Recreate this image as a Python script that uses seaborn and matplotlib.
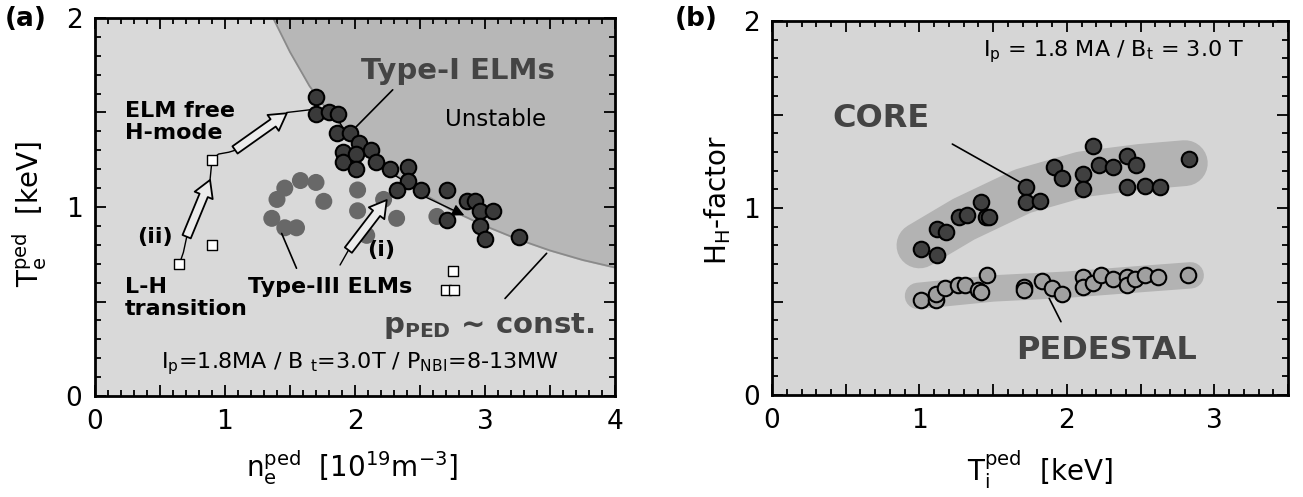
import numpy as np
import pandas as pd
import seaborn as sns
import matplotlib.pyplot as plt
from matplotlib.ticker import MultipleLocator, FuncFormatter

# ---- panel (a) data : n_e^ped [1e19 m-3], T_e^ped [keV]
type1_n = [1.70, 1.70, 1.80, 1.87, 1.86, 1.96, 2.03, 1.91, 1.91, 2.01, 2.12, 2.16, 2.01,
           2.27, 2.41, 2.41, 2.32, 2.51, 2.71, 2.86, 2.92, 2.96, 3.06, 2.71, 2.96, 3.00, 3.26]
type1_T = [1.58, 1.49, 1.50, 1.49, 1.39, 1.39, 1.34, 1.29, 1.24, 1.28, 1.30, 1.24, 1.20,
           1.20, 1.21, 1.14, 1.09, 1.09, 1.09, 1.03, 1.03, 0.98, 0.98, 0.93, 0.90, 0.83, 0.84]
type3_n = [1.46, 1.58, 1.70, 1.40, 1.76, 1.36, 1.46, 1.55, 2.02, 2.02, 2.22, 2.32, 2.09, 2.63]
type3_T = [1.10, 1.14, 1.13, 1.04, 1.03, 0.94, 0.89, 0.89, 1.09, 0.98, 1.04, 0.94, 0.85, 0.95]
lh_n = [0.65, 0.90, 0.90, 2.75, 2.70, 2.76]
lh_T = [0.70, 1.25, 0.80, 0.66, 0.56, 0.56]
bound_n = [1.37, 1.50, 1.65, 1.80, 2.00, 2.25, 2.50, 2.75, 3.00, 3.25, 3.50, 3.75, 4.00]
bound_T = [2.00, 1.82, 1.64, 1.50, 1.35, 1.20, 1.08, 0.98, 0.90, 0.83, 0.77, 0.72, 0.68]
# trajectories (ii) and (i)
path2_n = [0.65, 0.68, 0.705]
path2_T = [0.70, 0.76, 0.84]
path3_n = [0.885, 0.90, 0.95, 1.03, 1.077]
path3_T = [1.143, 1.25, 1.28, 1.29, 1.30]
path4_n = [1.475, 1.60, 1.72, 1.80, 1.88, 1.95, 2.05, 2.15, 2.30, 2.42, 2.52]
path4_T = [1.50, 1.51, 1.52, 1.50, 1.45, 1.37, 1.30, 1.24, 1.17, 1.12, 1.06]
path5_n = [1.885, 1.95]
path5_T = [0.693, 0.772]

# ---- panel (b) data : T_i^ped [keV], H_H factor
core_T = [1.01, 1.12, 1.12, 1.18, 1.27, 1.32, 1.42, 1.45, 1.47, 1.72, 1.72, 1.82, 1.91, 1.97,
          2.11, 2.11, 2.18, 2.22, 2.31, 2.41, 2.47, 2.41, 2.53, 2.63, 2.83]
core_H = [0.78, 0.75, 0.89, 0.87, 0.95, 0.96, 1.03, 0.95, 0.95, 1.11, 1.03, 1.04, 1.22, 1.16,
          1.18, 1.10, 1.33, 1.23, 1.22, 1.28, 1.23, 1.11, 1.12, 1.11, 1.26]
ped_T = [1.01, 1.11, 1.11, 1.17, 1.26, 1.31, 1.40, 1.46, 1.42, 1.71, 1.71, 1.83, 1.90, 1.97,
         2.11, 2.11, 2.18, 2.23, 2.31, 2.41, 2.41, 2.46, 2.53, 2.62, 2.82]
ped_H = [0.51, 0.51, 0.54, 0.57, 0.59, 0.59, 0.56, 0.64, 0.55, 0.58, 0.56, 0.61, 0.57, 0.54,
         0.63, 0.58, 0.60, 0.64, 0.62, 0.63, 0.59, 0.62, 0.64, 0.63, 0.64]
core_band_T = [1.00, 1.30, 1.70, 2.10, 2.50, 2.80]
core_band_H = [0.80, 0.94, 1.09, 1.18, 1.22, 1.24]
ped_band_T = [0.99, 1.50, 2.00, 2.50, 2.84]
ped_band_H = [0.53, 0.57, 0.59, 0.62, 0.64]

sns.set_theme(style='ticks')
plt.rcParams['font.family'] = ['DejaVu Sans']
plt.rcParams['mathtext.default'] = 'regular'
plt.rcParams['text.color'] = 'black'

fig = plt.figure(figsize=(13.03, 4.97), dpi=100)
ax1 = fig.add_axes([0.0729, 0.2032, 0.3991, 0.7606])
ax2 = fig.add_axes([0.5925, 0.2052, 0.3960, 0.7525])

def int_only(v, p):
    return f'{v:.0f}' if abs(v - round(v)) < 1e-6 else ''

for ax in (ax1, ax2):
    ax.xaxis.set_major_locator(MultipleLocator(0.5))
    ax.yaxis.set_major_locator(MultipleLocator(0.5))
    ax.xaxis.set_minor_locator(MultipleLocator(0.1))
    ax.yaxis.set_minor_locator(MultipleLocator(0.1))
    ax.xaxis.set_major_formatter(FuncFormatter(int_only))
    ax.yaxis.set_major_formatter(FuncFormatter(int_only))
    ax.tick_params(which='both', direction='in', top=True, right=True, width=1.3,
                   labelsize=19, colors='black')
    ax.tick_params(which='major', length=8, pad=9)
    ax.tick_params(which='minor', length=4)
    for s in ax.spines.values():
        s.set_linewidth(2)
        s.set_color('black')

# ---------------- panel (a)
ax1.set_facecolor('#d9d9d9')
ax1.fill_between(bound_n, bound_T, 2.0, color='#b7b7b7', zorder=0)
ax1.plot(bound_n, bound_T, color='#8a8a8a', lw=1.3, zorder=1)

line_kw = dict(color='black', lw=1.0, zorder=2)
ax1.plot(path2_n, path2_T, **line_kw)
ax1.plot(path3_n, path3_T, **line_kw)
ax1.plot(path4_n, path4_T, **line_kw)
ax1.plot(path5_n, path5_T, **line_kw)
ax1.annotate('', xy=(2.86, 0.95), xytext=(2.52, 1.06),
             arrowprops=dict(arrowstyle='-|>', color='black', lw=1.0, mutation_scale=18), zorder=2)

arr = dict(arrowstyle='simple,head_length=0.6,head_width=0.7,tail_width=0.32',
           fc='#ececec', ec='black', lw=1.3, mutation_scale=20, shrinkA=0, shrinkB=0)
ax1.annotate('', xy=(0.885, 1.143), xytext=(0.705, 0.843), arrowprops=arr, zorder=3)
ax1.annotate('', xy=(1.475, 1.496), xytext=(1.077, 1.302), arrowprops=arr, zorder=3)
ax1.annotate('', xy=(2.244, 1.037), xytext=(1.949, 0.772), arrowprops=arr, zorder=3)

df3 = pd.DataFrame({'n': type3_n, 'T': type3_T})
sns.scatterplot(data=df3, x='n', y='T', ax=ax1, s=150, color='#686868', edgecolor='none',
                linewidth=0, zorder=2)
df1 = pd.DataFrame({'n': type1_n, 'T': type1_T})
sns.scatterplot(data=df1, x='n', y='T', ax=ax1, s=125, color='#3a3a3a', edgecolor='black',
                linewidth=1.5, zorder=4)
dfl = pd.DataFrame({'n': lh_n, 'T': lh_T})
sns.scatterplot(data=dfl, x='n', y='T', ax=ax1, s=45, marker='s', color='white',
                edgecolor='black', linewidth=1.0, zorder=4)

ax1.set_xlim(0, 4)
ax1.set_ylim(0, 2)
ax1.set_xlabel('')
ax1.set_ylabel('')

ax1.plot([2.29, 2.01], [1.62, 1.425], color='black', lw=1.2, zorder=5)
ax1.plot([1.436, 1.55], [0.86, 0.676], color='black', lw=1.2, zorder=5)
ax1.plot([3.474, 3.154], [0.755, 0.516], color='black', lw=1.2, zorder=5)

ax1.text(2.79, 1.72, 'Type-I ELMs', fontsize=21, fontweight='bold', color='#444444',
         ha='center', va='center')
ax1.text(3.08, 1.465, 'Unstable', fontsize=16.5, ha='center', va='center')
ax1.text(0.23, 1.45, 'ELM free\nH-mode', fontsize=16, fontweight='bold', ha='left', va='center',
         linespacing=1.1)
ax1.text(0.46, 0.84, '(ii)', fontsize=16, fontweight='bold', ha='center', va='center')
ax1.text(2.20, 0.77, '(i)', fontsize=16, fontweight='bold', ha='center', va='center')
ax1.text(0.23, 0.52, 'L-H\ntransition', fontsize=16, fontweight='bold', ha='left', va='center',
         linespacing=1.1)
ax1.text(1.81, 0.575, 'Type-III ELMs', fontsize=16, fontweight='bold', ha='center', va='center')
ax1.text(3.03, 0.37, r'$\mathbf{p_{PED}}$ ~ const.', fontsize=21, fontweight='bold',
         color='#444444', ha='center', va='center')
ax1.text(2.04, 0.17, r'$I_p$=1.8MA / B $_t$=3.0T / $P_{NBI}$=8-13MW', fontsize=16,
         ha='center', va='center')

ax1.text(0.494, -0.19, r'$n_e^{ped}$  [10$^{19}$m$^{-3}$]', transform=ax1.transAxes,
         fontsize=20, ha='center', va='center')
ax1.text(-0.125, 0.48, r'$T_e^{ped}$  [keV]', transform=ax1.transAxes, rotation=90,
         fontsize=20, ha='center', va='center')

# ---------------- panel (b)
ax2.set_facecolor('#d6d6d6')
ax2.plot(core_band_T, core_band_H, color='#b3b3b3', lw=33, solid_capstyle='round', zorder=1)
ax2.plot(ped_band_T, ped_band_H, color='#b3b3b3', lw=19, solid_capstyle='round', zorder=1)

dfc = pd.DataFrame({'T': core_T, 'H': core_H})
sns.scatterplot(data=dfc, x='T', y='H', ax=ax2, s=125, color='#404040', edgecolor='black',
                linewidth=1.5, zorder=3)
dfp = pd.DataFrame({'T': ped_T, 'H': ped_H})
sns.scatterplot(data=dfp, x='T', y='H', ax=ax2, s=125, color='#a0a0a0', edgecolor='black',
                linewidth=1.5, zorder=3)

ax2.set_xlim(0, 3.5)
ax2.set_ylim(0, 2)
ax2.set_xlabel('')
ax2.set_ylabel('')

ax2.plot([1.223, 1.676], [1.342, 1.141], color='black', lw=1.2, zorder=4)
ax2.plot([1.88, 1.96], [0.517, 0.392], color='black', lw=1.2, zorder=4)

ax2.text(0.74, 1.48, 'CORE', fontsize=23, fontweight='bold', color='#444444',
         ha='center', va='center')
ax2.text(2.27, 0.24, 'PEDESTAL', fontsize=23, fontweight='bold', color='#444444',
         ha='center', va='center')
ax2.text(2.32, 1.835, r'$I_p$ = 1.8 MA / $B_t$ = 3.0 T', fontsize=16, ha='center', va='center')

ax2.text(0.52, -0.2, r'$T_i^{ped}$  [keV]', transform=ax2.transAxes,
         fontsize=20, ha='center', va='center')
ax2.text(-0.105, 0.52, r'$H_H$-factor', transform=ax2.transAxes, rotation=90,
         fontsize=20, ha='center', va='center')

fig.text(0.004, 0.962, '(a)', fontsize=19, fontweight='bold', ha='left', va='center')
fig.text(0.518, 0.962, '(b)', fontsize=19, fontweight='bold', ha='left', va='center')

fig.savefig('out.png', dpi=100, facecolor='white')
